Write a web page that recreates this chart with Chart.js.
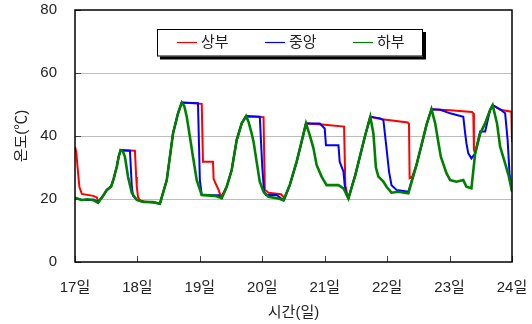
<!DOCTYPE html>
<html><head><meta charset="utf-8">
<script src="https://cdn.jsdelivr.net/npm/chart.js@4/dist/chart.umd.min.js"></script>
<style>html,body{margin:0;padding:0;background:#fff}#wrap{width:532px;height:324px}</style>
</head><body><div id="wrap"><canvas id="c" width="532" height="324"></canvas></div>
<script>
const seriesLabels = ['상부', '중앙', '하부'];
const xTickLabels = ['17일','18일','19일','20일','21일','22일','23일','24일'];
const xTickValues = [17,18,19,20,21,22,23,24];
const yTickValues = [0,20,40,60,80];

// 상부 (top)
const topTime = [17.00,17.02,17.04,17.07,17.11,17.29,17.35,17.37,17.45,17.51,17.58,17.62,17.67,17.70,17.73,17.96,17.98,17.99,18.01,18.05,18.25,18.36,18.47,18.57,18.65,18.71,19.03,19.05,19.21,19.22,19.25,19.30,19.34,19.43,19.51,19.59,19.67,19.74,20.02,20.04,20.10,20.30,20.36,20.44,20.55,20.63,20.70,21.00,21.31,21.33,21.36,21.38,21.49,21.57,21.65,21.73,21.89,22.33,22.35,22.36,22.40,22.47,22.55,22.63,22.71,23.01,23.36,23.38,23.39,23.41,23.49,23.57,23.65,23.69,23.81,23.99,24.00];
const topTemp = [36.6,35.0,30.3,23.9,21.6,21.0,20.5,19.0,21.0,22.9,24.0,26.5,30.3,33.5,35.5,35.3,27.0,23.9,20.5,19.3,19.0,18.5,26.0,40.8,47.2,50.6,50.2,31.8,31.8,26.5,25.0,22.9,20.6,23.9,29.2,38.7,44.0,46.3,46.0,22.9,22.0,21.5,20.2,24.4,31.8,38.2,44.0,43.6,43.0,24.4,21.5,20.2,27.6,34.0,40.3,46.1,45.4,44.3,43.8,26.6,27.0,30.8,37.1,43.5,48.5,48.2,47.6,47.2,35.5,34.5,40.8,44.0,48.3,49.8,48.3,47.7,38.0];

// 중앙 (middle)
const midTime = [17.00,17.10,17.20,17.30,17.37,17.45,17.51,17.58,17.62,17.67,17.70,17.73,17.88,17.91,17.93,17.99,18.10,18.25,18.36,18.47,18.57,18.65,18.71,18.97,19.00,19.03,19.30,19.35,19.43,19.51,19.59,19.67,19.74,19.96,20.00,20.03,20.06,20.23,20.34,20.44,20.55,20.63,20.70,20.92,21.00,21.02,21.22,21.24,21.30,21.32,21.35,21.38,21.49,21.57,21.65,21.73,21.89,21.94,21.99,22.03,22.07,22.15,22.34,22.47,22.55,22.63,22.71,22.85,23.01,23.22,23.25,23.27,23.30,23.35,23.41,23.49,23.57,23.65,23.69,23.81,23.89,23.93,23.96,24.00];
const midTemp = [20.3,19.8,19.7,19.8,19.0,21.0,22.9,24.0,26.5,30.3,33.5,35.5,35.3,23.9,21.0,19.7,19.1,19.0,18.5,26.0,40.8,47.2,50.6,50.4,26.0,21.3,21.2,20.3,23.9,29.2,38.7,44.0,46.3,46.1,30.0,22.0,21.3,21.3,19.6,24.4,31.8,38.2,44.0,44.0,42.4,37.1,37.1,31.8,28.7,24.4,21.3,20.2,27.6,34.0,40.3,46.1,45.6,45.0,36.1,28.7,24.4,22.9,22.3,30.8,37.1,43.5,48.5,48.3,47.2,46.1,40.8,37.7,34.5,32.9,34.5,41.4,41.4,48.3,49.8,48.5,47.2,38.7,28.2,22.3];

// 하부 (bottom)
const botTime = [17.00,17.10,17.20,17.30,17.37,17.45,17.51,17.58,17.62,17.67,17.70,17.73,17.77,17.80,17.85,17.91,17.99,18.10,18.25,18.36,18.47,18.57,18.65,18.71,18.75,18.79,18.84,18.89,18.95,19.03,19.24,19.35,19.43,19.51,19.59,19.67,19.74,19.78,19.83,19.86,19.91,19.96,20.02,20.10,20.25,20.34,20.44,20.55,20.63,20.70,20.76,20.82,20.87,20.95,21.03,21.22,21.30,21.38,21.49,21.57,21.65,21.73,21.78,21.82,21.86,21.94,21.99,22.07,22.18,22.34,22.47,22.55,22.63,22.71,22.77,22.82,22.86,22.95,23.01,23.11,23.22,23.27,23.35,23.41,23.49,23.57,23.65,23.69,23.76,23.81,23.89,23.95,24.00];
const botTemp = [20.4,19.7,19.9,19.6,18.8,21.0,22.9,24.0,26.5,30.3,33.5,35.5,35.0,33.4,27.0,21.9,19.7,19.1,19.0,18.5,26.0,40.8,47.2,50.6,49.5,46.1,39.8,33.4,26.0,21.3,21.0,20.3,23.9,29.2,38.7,44.0,46.3,44.5,40.8,38.2,31.8,25.5,22.3,20.7,20.2,19.6,24.4,31.8,38.2,44.0,40.3,36.1,30.8,27.1,24.4,24.4,23.4,20.2,27.6,34.0,40.3,46.1,40.8,30.0,27.1,25.5,23.9,22.0,22.3,21.8,30.8,37.1,43.5,48.5,44.0,38.0,33.4,28.2,26.0,25.5,26.0,23.9,23.4,34.5,40.8,44.0,48.3,49.8,44.0,36.6,31.3,27.1,22.5];

const seriesColors = ['#ff0000', '#0000ff', '#008000'];
const seriesWidths = [2, 2, 2.6];

function pts(t, v) { return t.map((x, i) => ({x: x, y: v[i]})); }

const FONT = '"Liberation Sans", "Noto Sans CJK KR", sans-serif';

const framePlugin = {
  id: 'frame',
  afterDatasetsDraw(chart) {
    const {ctx, chartArea: a, scales: {x, y}} = chart;
    ctx.save();
    ctx.strokeStyle = '#444';
    ctx.lineWidth = 1;
    ctx.beginPath();
    xTickValues.forEach(v => {
      const px = Math.round(x.getPixelForValue(v)) + 0.5;
      ctx.moveTo(px, a.bottom); ctx.lineTo(px, a.bottom - 6);
    });
    yTickValues.forEach(v => {
      const py = Math.round(y.getPixelForValue(v)) + 0.5;
      ctx.moveTo(a.left, py); ctx.lineTo(a.left + 6, py);
    });
    ctx.stroke();
    ctx.strokeStyle = '#000';
    ctx.lineWidth = 1.5;
    ctx.strokeRect(a.left, a.top, a.right - a.left, a.bottom - a.top);
    const bx = 157, by = 29, bw = 266, bh = 27.5;
    ctx.fillStyle = '#000';
    ctx.fillRect(bx + 3, by + 3, bw, bh);
    ctx.fillStyle = '#fff';
    ctx.fillRect(bx, by, bw, bh);
    ctx.lineWidth = 1;
    ctx.strokeStyle = '#000';
    ctx.strokeRect(bx + 0.5, by + 0.5, bw - 1, bh - 1);
    const lineX = [177, 265, 353];
    ctx.font = '15px ' + FONT;
    ctx.textBaseline = 'middle';
    ctx.textAlign = 'left';
    seriesLabels.forEach((lab, i) => {
      ctx.strokeStyle = seriesColors[i];
      ctx.lineWidth = 1.2;
      ctx.beginPath();
      ctx.moveTo(lineX[i], by + 13.5); ctx.lineTo(lineX[i] + 20, by + 13.5);
      ctx.stroke();
      ctx.fillStyle = '#222';
      ctx.fillText(lab, lineX[i] + 24, by + 14);
    });
    ctx.restore();
  }
};

new Chart(document.getElementById('c'), {
  type: 'line',
  data: {
    datasets: seriesLabels.map((lab, i) => ({
      label: lab,
      data: pts([topTime, midTime, botTime][i], [topTemp, midTemp, botTemp][i]),
      borderColor: seriesColors[i],
      backgroundColor: seriesColors[i],
      borderWidth: seriesWidths[i],
      pointRadius: 0,
      tension: 0,
      fill: false,
      order: 2 - i
    }))
  },
  options: {
    responsive: false,
    animation: false,
    layout: { padding: { top: 10, right: 20, left: 0, bottom: 0 } },
    plugins: { legend: { display: false }, tooltip: { enabled: false } },
    scales: {
      x: {
        type: 'linear', min: 17, max: 24,
        afterBuildTicks(s) { s.ticks = xTickValues.map(v => ({value: v})); },
        afterFit(s) { s.height = 62; s.paddingLeft = 0; s.paddingRight = 0; },
        border: { display: false },
        grid: { display: false, drawTicks: false },
        ticks: {
          padding: 17, color: '#222', font: { family: FONT, size: 15 },
          maxRotation: 0, autoSkip: false,
          callback: (v) => xTickLabels[xTickValues.indexOf(v)]
        },
        title: { display: true, text: '시간(일)', color: '#222', font: { family: FONT, size: 15 }, padding: { top: 0, bottom: 2 } }
      },
      y: {
        min: 0, max: 80,
        afterBuildTicks(s) { s.ticks = yTickValues.map(v => ({value: v})); },
        afterFit(s) { s.width = 75; s.paddingTop = 0; s.paddingBottom = 0; },
        border: { display: false },
        grid: { drawTicks: false, color: (c) => (c.tick && (c.tick.value === 0 || c.tick.value === 80)) ? 'rgba(0,0,0,0)' : '#bdbdbd', lineWidth: 1 },
        ticks: { padding: 18, color: '#222', font: { family: FONT, size: 15 } },
        title: { display: true, text: '온도(℃)', color: '#222', font: { family: FONT, size: 15 }, padding: { top: 13, bottom: 0 } }
      }
    }
  },
  plugins: [framePlugin]
});
</script></body></html>
